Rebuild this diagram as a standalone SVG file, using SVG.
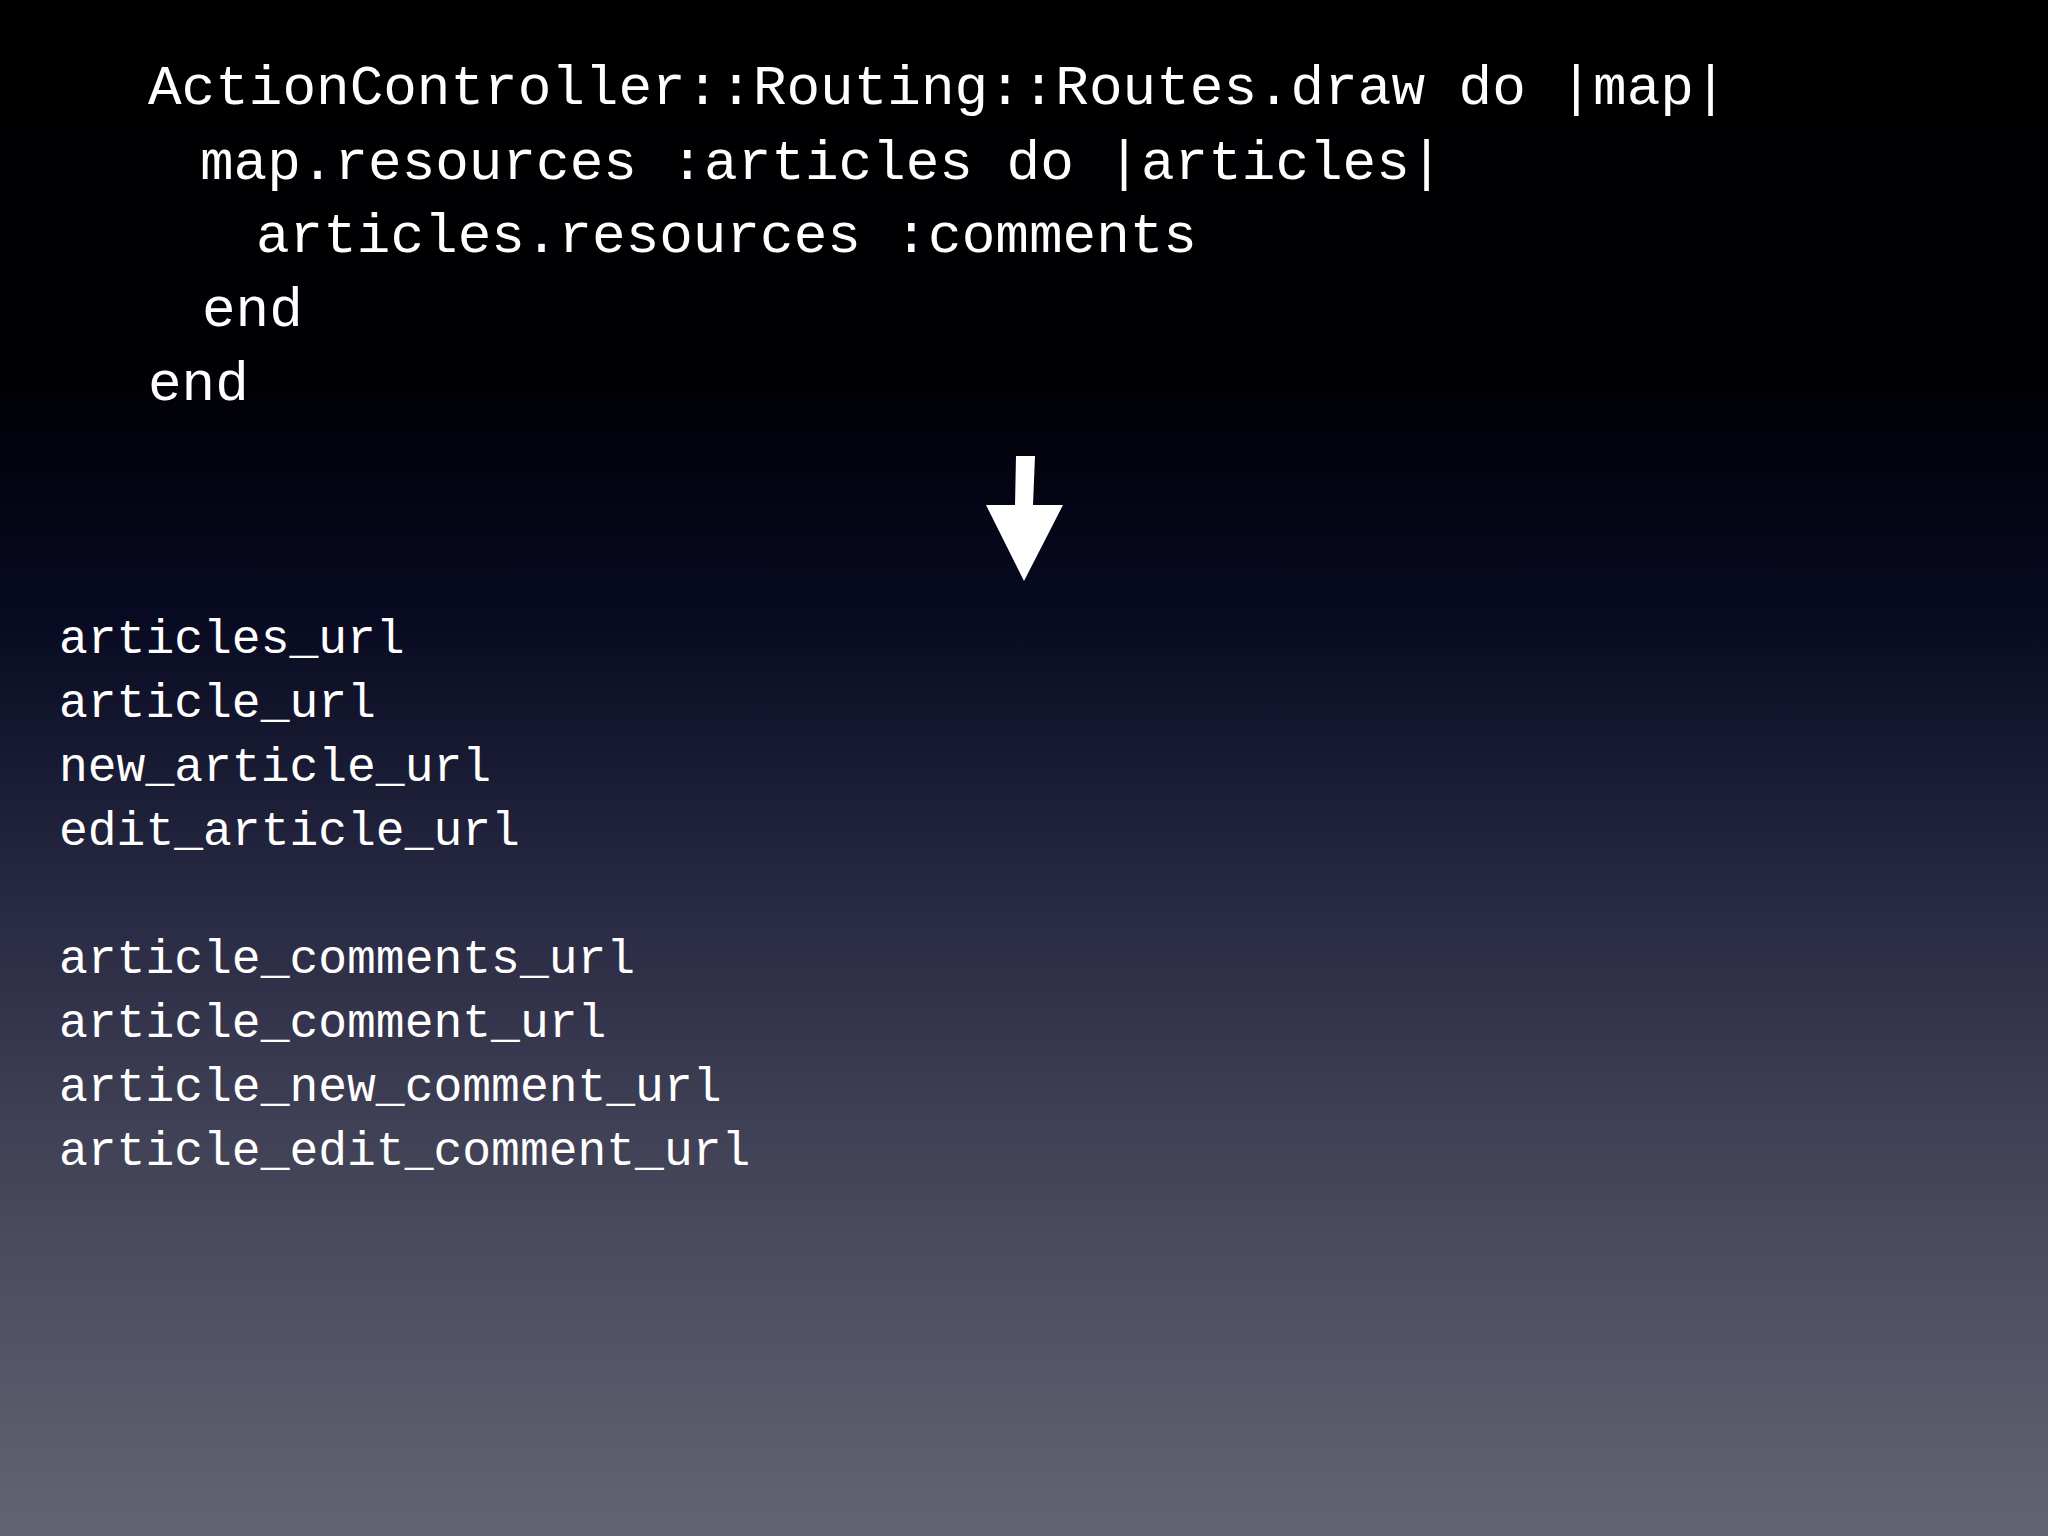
<svg xmlns="http://www.w3.org/2000/svg" width="2048" height="1536" viewBox="0 0 2048 1536">
<defs>
<linearGradient id="bg" x1="0" y1="0" x2="0" y2="1">
<stop offset="0" stop-color="#000000"/>
<stop offset="0.25" stop-color="#000005"/>
<stop offset="0.4" stop-color="#080a22"/>
<stop offset="0.6" stop-color="#2a2b44"/>
<stop offset="0.8" stop-color="#4a4a5e"/>
<stop offset="1" stop-color="#636372"/>
</linearGradient>
<style>
.code{font-family:"Liberation Mono","DejaVu Sans Mono",monospace;font-size:56px;fill:#fff}
.list{font-family:"Liberation Mono","DejaVu Sans Mono",monospace;font-size:48px;fill:#fff}
</style>
</defs>
<rect width="2048" height="1536" fill="url(#bg)"/>
<g id="code">
<text class="code" x="148" y="104">ActionController::Routing::Routes.draw do |map|</text>
<text class="code" x="200" y="179">map.resources :articles do |articles|</text>
<text class="code" x="256" y="252">articles.resources :comments</text>
<text class="code" x="202" y="326">end</text>
<text class="code" x="148" y="400">end</text>
</g>
<g id="connectors">
<path d="M1016 456 L1035 456 L1033 505 L1063 505 L1024 581 L986 505 L1015 505 Z" fill="#fff"/>
</g>
<g id="helpers">
<text class="list" x="59" y="653">articles_url</text>
<text class="list" x="59" y="717">article_url</text>
<text class="list" x="59" y="781">new_article_url</text>
<text class="list" x="59" y="845">edit_article_url</text>
<text class="list" x="59" y="973">article_comments_url</text>
<text class="list" x="59" y="1037">article_comment_url</text>
<text class="list" x="59" y="1101">article_new_comment_url</text>
<text class="list" x="59" y="1165">article_edit_comment_url</text>
</g>
</svg>
